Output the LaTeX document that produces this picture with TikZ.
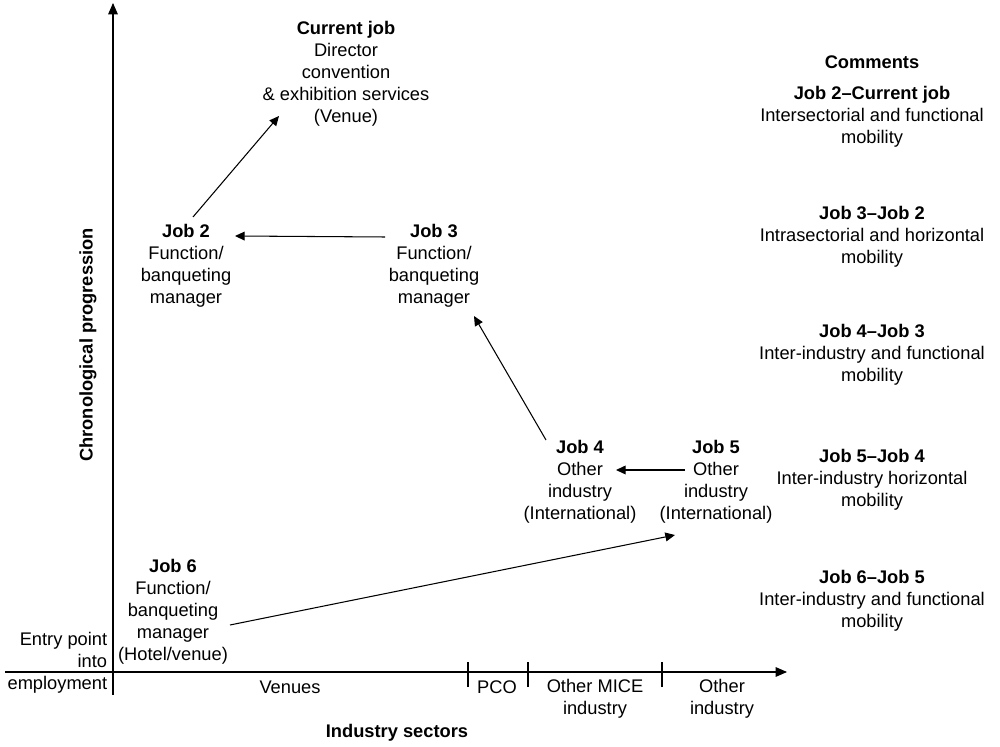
\documentclass[tikz,border=0pt]{standalone}
\usepackage{fontspec}
\setmainfont{Liberation Sans}
\usetikzlibrary{arrows.meta}

\begin{document}
\begin{tikzpicture}[
    font = \fontsize{10.4}{12.5}\selectfont,
    job/.style = {align = center, inner sep = 0pt},
    sector/.style = {align = center, inner sep = 0pt},
    move/.style = {line width = 0.6pt, -{Triangle[length = 5.5pt, width = 5pt]}},
    axis/.style = {line width = 0.6pt, -{Triangle[length = 6.5pt, width = 5.5pt]}}
  ]
  \useasboundingbox (0, 0) rectangle (20, 14.92);
  % axes
  \draw[axis] (2.26, 1.02) -- (2.26, 14.86);
  \draw[axis] (0.10, 1.48) -- (15.74, 1.48);
  \foreach \x in {9.36, 10.56, 13.24}
    \draw[line width = 0.6pt] (\x, 1.18) -- (\x, 1.68);
  % axis labels
  \node[sector, anchor = east, align = right] (entry) at (2.15, 1.66) {Entry point\\into\\employment};
  \node[sector] (venues) at (5.80, 1.18) {Venues};
  \node[sector] (pco) at (9.94, 1.18) {PCO};
  \node[sector] (mice) at (11.90, 0.94) {Other MICE\\industry};
  \node[sector] (other) at (14.44, 0.94) {Other\\industry};
  \node[sector, font = \fontsize{10.4}{12.5}\selectfont\bfseries] (sectors) at (7.94, 0.26) {Industry sectors};
  \node[sector, rotate = 90, font = \fontsize{10.4}{12.5}\selectfont\bfseries] (chrono) at (1.76, 8.02) {Chronological progression};
  % jobs
  \node[job] (current) at (6.92, 13.44) {\textbf{Current job}\\Director\\convention\\\& exhibition services\\(Venue)};
  \node[job] (job2) at (3.72, 9.60) {\textbf{Job 2}\\Function/\\banqueting\\manager};
  \node[job] (job3) at (8.68, 9.60) {\textbf{Job 3}\\Function/\\banqueting\\manager};
  \node[job] (job4) at (11.60, 5.29) {\textbf{Job 4}\\Other\\industry\\(International)};
  \node[job] (job5) at (14.32, 5.29) {\textbf{Job 5}\\Other\\industry\\(International)};
  \node[job] (job6) at (3.46, 2.69) {\textbf{Job 6}\\Function/\\banqueting\\manager\\(Hotel/venue)};
  % moves
  \draw[move] ([shift = {(1.14, -0.27)}]job6.center) -- ([shift = {(-0.82, -1.07)}]job5.center);
  \draw[move] ([shift = {(-0.62, 0.23)}]job5.center) -- ([shift = {(0.72, 0.23)}]job4.center);
  \draw[move] ([shift = {(-0.68, 0.83)}]job4.center) -- ([shift = {(0.80, -1.00)}]job3.center);
  \draw[move] ([shift = {(-0.98, 0.58)}]job3.center) -- ([shift = {(0.98, 0.60)}]job2.center);
  \draw[move] ([shift = {(0.14, 0.98)}]job2.center) -- ([shift = {(-1.34, -0.84)}]current.center);
  % comments
  \node[job] (comments) at (17.44, 13.68) {\textbf{Comments}};
  \node[job] (c1) at (17.44, 12.58) {\textbf{Job 2–Current job}\\Intersectorial and functional\\mobility};
  \node[job] (c2) at (17.44, 10.19) {\textbf{Job 3–Job 2}\\Intrasectorial and horizontal\\mobility};
  \node[job] (c3) at (17.44, 7.82) {\textbf{Job 4–Job 3}\\Inter-industry and functional\\mobility};
  \node[job] (c4) at (17.44, 5.32) {\textbf{Job 5–Job 4}\\Inter-industry horizontal\\mobility};
  \node[job] (c5) at (17.44, 2.91) {\textbf{Job 6–Job 5}\\Inter-industry and functional\\mobility};
\end{tikzpicture}
\end{document}
